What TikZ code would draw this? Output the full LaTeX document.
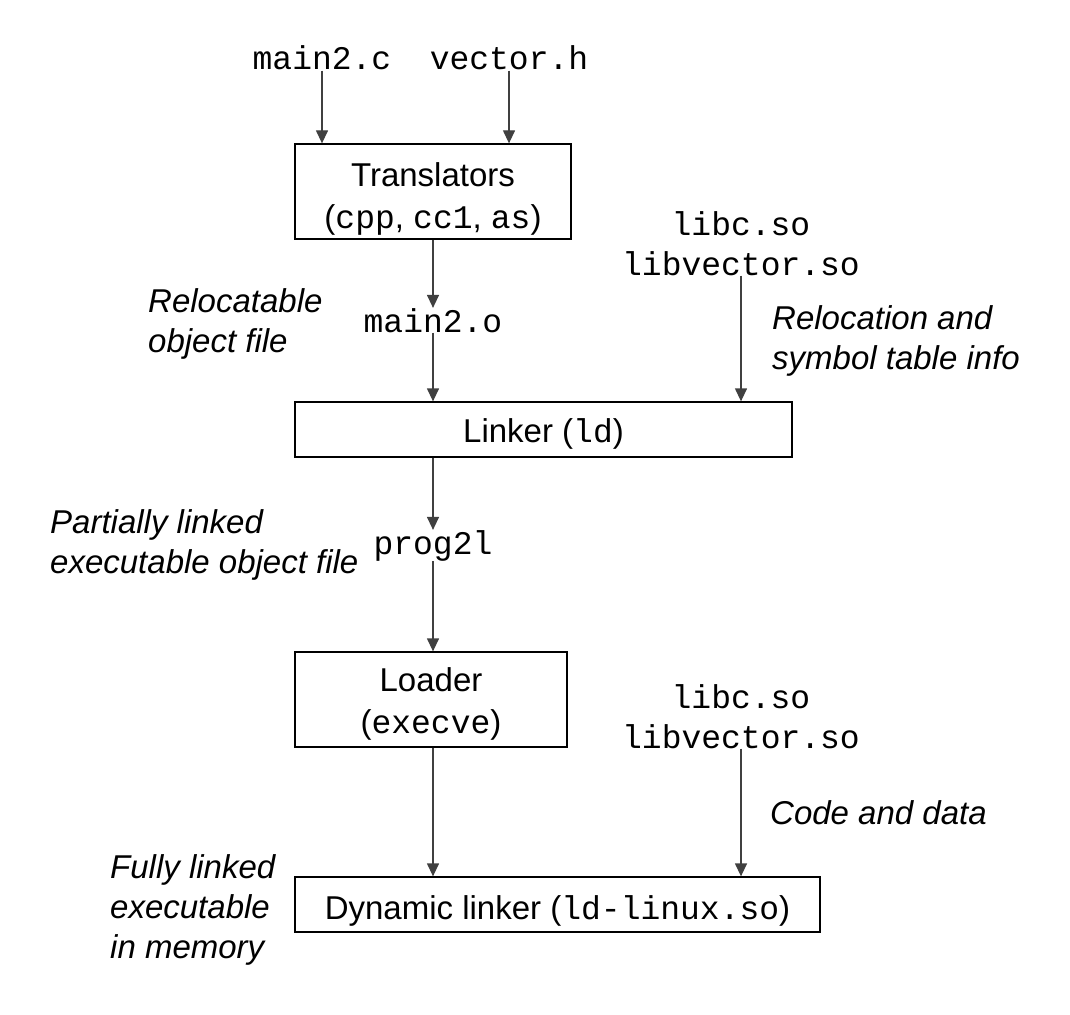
\documentclass[tikz,border=0pt]{standalone}
\usepackage{fontspec}
\setmainfont{Liberation Sans}
\setmonofont{Liberation Mono}
\usetikzlibrary{arrows.meta}
\begin{document}
\begin{tikzpicture}[x=1pt,y=-1pt,
  every node/.style={font=\fontsize{33}{40}\selectfont, inner sep=0pt},
  box/.style={draw, line width=1.3pt, align=center, font=\fontsize{33}{42}\selectfont},
  code/.style={font=\fontsize{33}{40}\selectfont\ttfamily, align=center},
  note/.style={font=\fontsize{33}{40}\selectfont\itshape, align=left},
  arr/.style={line width=1.3pt, draw=black!75, -{Triangle[width=12pt,length=13pt]}}]
\useasboundingbox (0,0) rectangle (1070,1014);
% sources
\node[code, anchor=base] (m2c) at (322,70) {main2.c};
\node[code, anchor=base] (vh) at (509,70) {vector.h};
\node[box, minimum width=276pt, minimum height=95pt, text height=80pt] (tr) at (433,191.5) {Translators\\(\texttt{cpp}, \texttt{cc1}, \texttt{as})};
\node[code, anchor=base] (m2o) at (433,332) {main2.o};
\node[code, anchor=base] (lib1) at (741,275) {libc.so\\libvector.so};
\node[note, anchor=base west] (n1) at (148,352) {Relocatable\\object file};
\node[note, anchor=base west] (n2) at (772,369) {Relocation and\\symbol table info};
\node[box, minimum width=497pt, minimum height=55pt, text height=32pt] (ld) at (543.5,429.5) {Linker (\texttt{ld})};
\node[code, anchor=base] (p2l) at (433,554) {prog2l};
\node[note, anchor=base west] (n3) at (50,573) {Partially linked\\executable object file};
\node[box, minimum width=272pt, minimum height=95pt, text height=74pt] (lo) at (431,699.5) {Loader\\(\texttt{execve})};
\node[code, anchor=base] (lib2) at (741,748) {libc.so\\libvector.so};
\node[note, anchor=base west] (n4) at (770,824) {Code and data};
\node[box, minimum width=525pt, minimum height=55pt, text height=36pt] (dl) at (557.5,904.5) {Dynamic linker (\texttt{ld-linux.so})};
\node[note, anchor=base west] (n5) at (110,958) {Fully linked\\executable\\in memory};
% connectors
\draw[arr] (m2c.south) -- (m2c.south |- tr.north);
\draw[arr] (vh.south) -- (vh.south |- tr.north);
\draw[arr] (tr.south) -- (m2o.north);
\draw[arr] (m2o.south) -- (m2o.south |- ld.north);
\draw[arr] (lib1.south) -- (lib1.south |- ld.north);
\draw[arr] (ld.south -| p2l) -- (p2l.north);
\draw[arr] (p2l.south) -- (p2l.south |- lo.north);
\draw[arr] (lo.south -| p2l) -- (p2l |- dl.north);
\draw[arr] (lib2.south) -- (lib2.south |- dl.north);
\end{tikzpicture}
\end{document}
